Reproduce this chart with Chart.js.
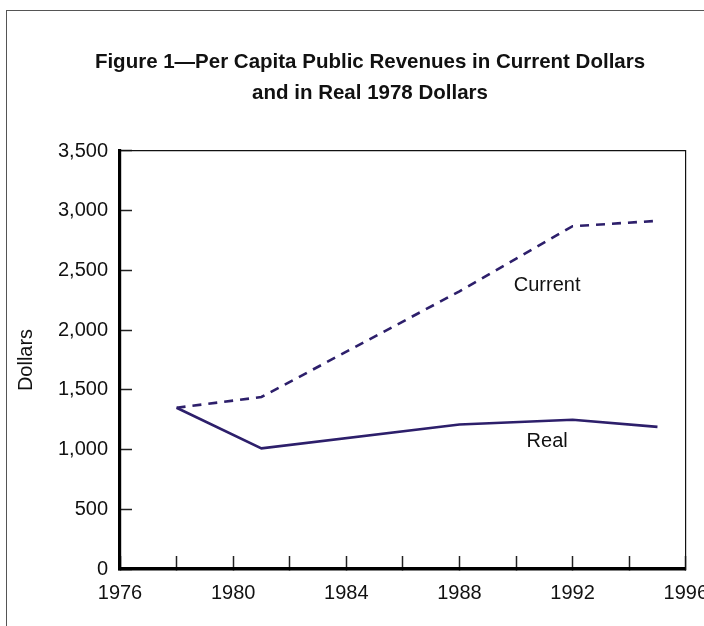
<!DOCTYPE html>
<html>
<head>
<meta charset="utf-8">
<script src="https://cdn.jsdelivr.net/npm/chart.js@4/dist/chart.umd.min.js"></script>
<style>
  html, body { margin: 0; padding: 0; width: 704px; height: 626px; overflow: hidden; background: #fff; }
  #frame { position: absolute; left: 6px; top: 10px; width: 900px; height: 900px;
           border-left: 1px solid #555; border-top: 1px solid #555; }
  #c { position: absolute; left: 0; top: 0; }
</style>
</head>
<body>
<div id="frame"></div>
<canvas id="c" width="733" height="626"></canvas>
<script>
// ---- data ----
const years = [1978, 1981, 1988, 1992, 1995];
const currentDollars = [1350, 1440, 2325, 2870, 2915];
const realDollars = [1350, 1010, 1210, 1250, 1190];
const seriesNames = ['Current', 'Real'];
// label anchor positions in data units [year, value]
const labelAnchors = [[1991.1, 2375], [1991.1, 1065]];
const titleLines = ['Figure 1\u2014Per Capita Public Revenues in Current Dollars', 'and in Real 1978 Dollars'];
const yAxisTitle = 'Dollars';
const xMin = 1976, xMax = 1996, xStep = 2, xLabelEvery = 4;
const yMin = 0, yMax = 3500, yStep = 500;

const lineColor = '#2d1f6b';
const FONT = '"Liberation Sans", Arial, Helvetica, sans-serif';

const seriesLabels = {
  id: 'seriesLabels',
  afterDatasetsDraw(chart) {
    const {ctx, scales} = chart;
    ctx.save();
    ctx.font = '20px ' + FONT;
    ctx.fillStyle = '#111';
    ctx.textAlign = 'center';
    ctx.textBaseline = 'middle';
    seriesNames.forEach((name, i) => {
      const [yr, v] = labelAnchors[i];
      ctx.fillText(name, scales.x.getPixelForValue(yr), scales.y.getPixelForValue(v));
    });
    ctx.restore();
  }
};

new Chart(document.getElementById('c'), {
  type: 'line',
  data: {
    datasets: [
      {
        label: seriesNames[0],
        data: years.map((y, i) => ({x: y, y: currentDollars[i]})),
        borderColor: lineColor,
        borderWidth: 2.6,
        borderDash: [9, 7],
        pointRadius: 0,
        tension: 0,
        fill: false
      },
      {
        label: seriesNames[1],
        data: years.map((y, i) => ({x: y, y: realDollars[i]})),
        borderColor: lineColor,
        borderWidth: 2.6,
        pointRadius: 0,
        tension: 0,
        fill: false
      }
    ]
  },
  options: {
    responsive: false,
    animation: false,
    devicePixelRatio: 1,
    layout: { padding: { left: 7, right: 0, top: 0, bottom: 0 } },
    plugins: {
      legend: { display: false },
      tooltip: { enabled: false },
      title: {
        display: true,
        text: titleLines,
        color: '#111',
        font: { family: FONT, size: 20.5, weight: 'bold', lineHeight: 1.512 },
        padding: { top: 47, bottom: 42 }
      }
    },
    scales: {
      x: {
        type: 'linear',
        position: 'bottom',
        min: xMin, max: xMax,
        afterFit(s) { s.height = 57; },
        border: { display: true, color: '#000', width: 3.5 },
        grid: { display: true, drawOnChartArea: false, drawTicks: true, tickLength: -13, tickColor: '#222', tickWidth: 1.5 },
        ticks: {
          stepSize: xStep,
          autoSkip: false,
          maxRotation: 0,
          padding: 25,
          color: '#111',
          font: { family: FONT, size: 20 },
          callback: v => (v % xLabelEvery === 0 ? String(v) : '')
        }
      },
      x2: {
        type: 'linear',
        position: 'top',
        min: xMin, max: xMax,
        afterFit(s) { s.height = 0; },
        border: { display: true, color: '#111', width: 1.2 },
        grid: { display: false },
        ticks: { display: false }
      },
      y: {
        type: 'linear',
        position: 'left',
        min: yMin, max: yMax,
        afterFit(s) { s.width = 113; },
        border: { display: true, color: '#000', width: 3.2 },
        grid: { display: true, drawOnChartArea: false, drawTicks: true, tickLength: -12, tickColor: '#222', tickWidth: 1.5 },
        ticks: {
          stepSize: yStep,
          padding: 24,
          color: '#111',
          font: { family: FONT, size: 20 },
          callback: v => v.toLocaleString('en-US')
        },
        title: {
          display: true,
          text: yAxisTitle,
          color: '#111',
          font: { family: FONT, size: 20 },
          padding: { top: 7, bottom: 0 }
        }
      },
      y2: {
        type: 'linear',
        position: 'right',
        min: yMin, max: yMax,
        afterFit(s) { s.width = 46; },
        border: { display: true, color: '#111', width: 1.2 },
        grid: { display: false },
        ticks: { display: false }
      }
    }
  },
  plugins: [seriesLabels]
});
</script>
</body>
</html>
